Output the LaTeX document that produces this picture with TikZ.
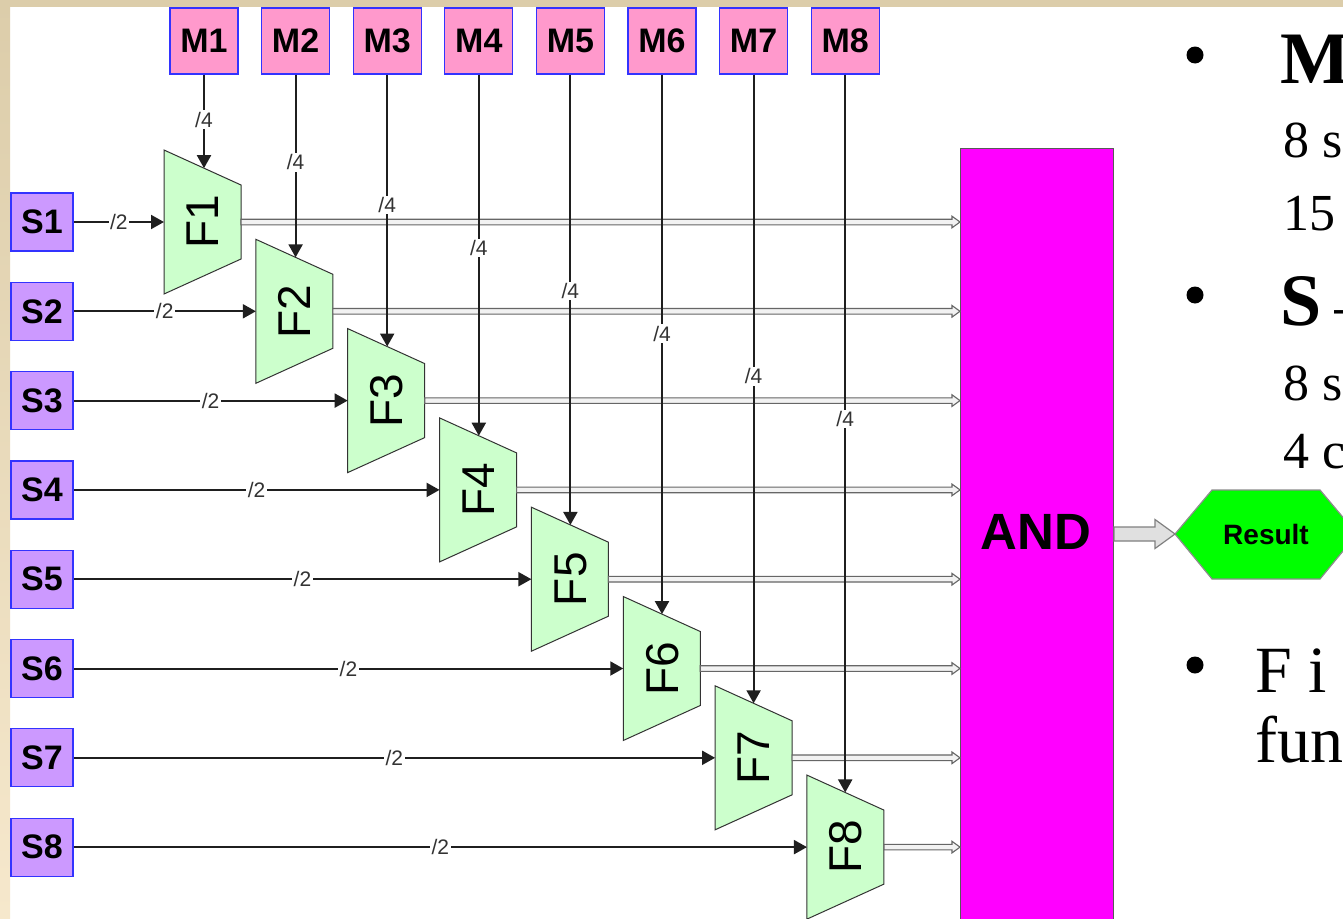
\documentclass[tikz,border=0pt]{standalone}
\usepackage{fontspec}
\setmainfont{Liberation Sans}
\newfontfamily\tnr{Liberation Serif}
\usetikzlibrary{arrows.meta,calc}
\definecolor{mpink}{HTML}{FF99CC}
\definecolor{spurple}{HTML}{CC99FF}
\definecolor{boxblue}{HTML}{3333FF}
\definecolor{fgreen}{HTML}{CCFFCC}
\definecolor{andmag}{HTML}{FF00FF}
\definecolor{resgreen}{HTML}{00FF00}
\definecolor{beigetop}{HTML}{DCCDAA}
\definecolor{beigebot}{HTML}{F6E8CC}
\newcommand\flowarrow[2]{\draw[harrow] let \p1=(#1), \p2=(#2) in
  (\x1,\y1+2.8pt) -- (\x2-8pt,\y1+2.8pt) -- (\x2-8pt,\y1+5.8pt) -- (\x2,\y1)
  -- (\x2-8pt,\y1-5.8pt) -- (\x2-8pt,\y1-2.8pt) -- (\x1,\y1-2.8pt) -- cycle;}
\begin{document}
\begin{tikzpicture}[x=1pt,y=-1pt,
  mbox/.style={draw=boxblue, line width=1.2pt, fill=mpink, minimum width=68pt, minimum height=66pt, inner sep=0pt, font=\fontsize{34}{34}\selectfont\bfseries},
  sbox/.style={draw=boxblue, line width=1.2pt, fill=spurple, minimum width=62pt, minimum height=58pt, inner sep=0pt, font=\fontsize{34}{34}\selectfont\bfseries},
  fshape/.style={draw=black!80, line width=1pt, fill=fgreen},
  flabel/.style={rotate=90, font=\fontsize{46}{46}\selectfont, inner sep=0pt},
  sig/.style={line width=2pt, draw=black!88, -{Triangle[length=13pt,width=14pt]}},
  lbl/.style={fill=white, inner sep=1.5pt, font=\fontsize{21}{21}\selectfont, text=black!80},
  harrow/.style={draw=black!60, line width=1.1pt, fill=black!5},
  bigarrow/.style={draw=black!50, line width=1.2pt, fill=black!12},
  bullet/.style={circle, fill=black, minimum size=17pt, inner sep=0pt},
  serifbig/.style={anchor=base west, inner sep=0pt, font=\tnr\fontsize{74}{74}\selectfont\bfseries},
  serifmid/.style={anchor=base west, inner sep=0pt, font=\tnr\fontsize{52}{52}\selectfont},
  serifF/.style={anchor=base west, inner sep=0pt, font=\tnr\fontsize{66}{66}\selectfont}]
\useasboundingbox (0,0) rectangle (1343,918);
\clip (0,0) rectangle (1343,918);
\fill[white] (0,0) rectangle (1343,918);
\fill[beigetop] (0,0) rectangle (1343,7);
\shade[top color=beigetop, bottom color=beigebot] (0,0) rectangle (10,918);

% AND block
\node[draw=black!65, line width=1pt, fill=andmag, minimum width=153pt, minimum height=790pt, anchor=north west, inner sep=0pt] (ANDbox) at (960,148) {};
\node[font=\fontsize{51}{51}\selectfont\bfseries, inner sep=0pt] (ANDt) at (1036,532) {AND};

% F blocks, S and M sources
\foreach \i in {1,...,8} {
  \pgfmathsetmacro\fx{164+91.85*(\i-1)}
  \pgfmathsetmacro\fy{222+89.3*(\i-1)}
  \pgfmathsetmacro\mx{204+91.6*(\i-1)}
  \pgfmathsetmacro\ty{\fy-72+(\mx-\fx)*35/77}
  \draw[fshape] (\fx,\fy-72) -- (\fx+77,\fy-37) -- (\fx+77,\fy+37) -- (\fx,\fy+72) -- cycle;
  \node[flabel] (F\i) at (\fx+39,\fy) {F\i};
  \coordinate (Fi\i) at (\fx,\fy);
  \coordinate (Fo\i) at (\fx+77,\fy);
  \coordinate (Ft\i) at (\mx,\ty);
  \node[sbox] (S\i) at (42,\fy) {S\i};
  \node[mbox] (M\i) at (\mx,41) {M\i};
  \flowarrow{Fo\i}{ANDbox.west |- Fo\i}
}
\foreach \i in {1,...,8} {
  \draw[sig] (S\i.east) -- node[lbl] {/2} (Fi\i);
  \draw[sig] (M\i.south) -- node[lbl, pos=0.48] {/4} (Ft\i);
}

% Result
\coordinate (Rw) at (1175,534);
\draw[draw=black!45, line width=1.2pt, fill=resgreen] (Rw) -- (1212,490) -- (1320,490) -- (1357,534) -- (1320,579) -- (1212,579) -- cycle;
\node[font=\fontsize{28}{28}\selectfont\bfseries, inner sep=0pt] (Result) at (1266,534) {Result};
\draw[bigarrow] let \p1=(ANDbox.east |- Rw), \p2=(Rw) in
  (\x1,\y1+7pt) -- (\x2-20pt,\y1+7pt) -- (\x2-20pt,\y1+14.5pt) -- (\x2,\y1)
  -- (\x2-20pt,\y1-14.5pt) -- (\x2-20pt,\y1-7pt) -- (\x1,\y1-7pt) -- cycle;

% right-hand text
\node[bullet] (b1) at (1195,55) {};
\node[serifbig] (tM) at (1280,83) {M};
\node[serifmid] (t1) at (1283,157) {8 s};
\node[serifmid] (t2) at (1283,230) {15};
\node[bullet] (b2) at (1195,295) {};
\node[serifbig] (tS) at (1280,325) {S\hspace{13pt}\normalfont\fontsize{52}{52}\selectfont –};
\node[serifmid] (t3) at (1283,400) {8 s};
\node[serifmid] (t4) at (1283,468) {4 c};
\node[bullet] (b3) at (1195,665) {};
\node[serifF] (tF) at (1255,692) {F i};
\node[serifF] (tf) at (1255,762) {fun};
\end{tikzpicture}
\end{document}
